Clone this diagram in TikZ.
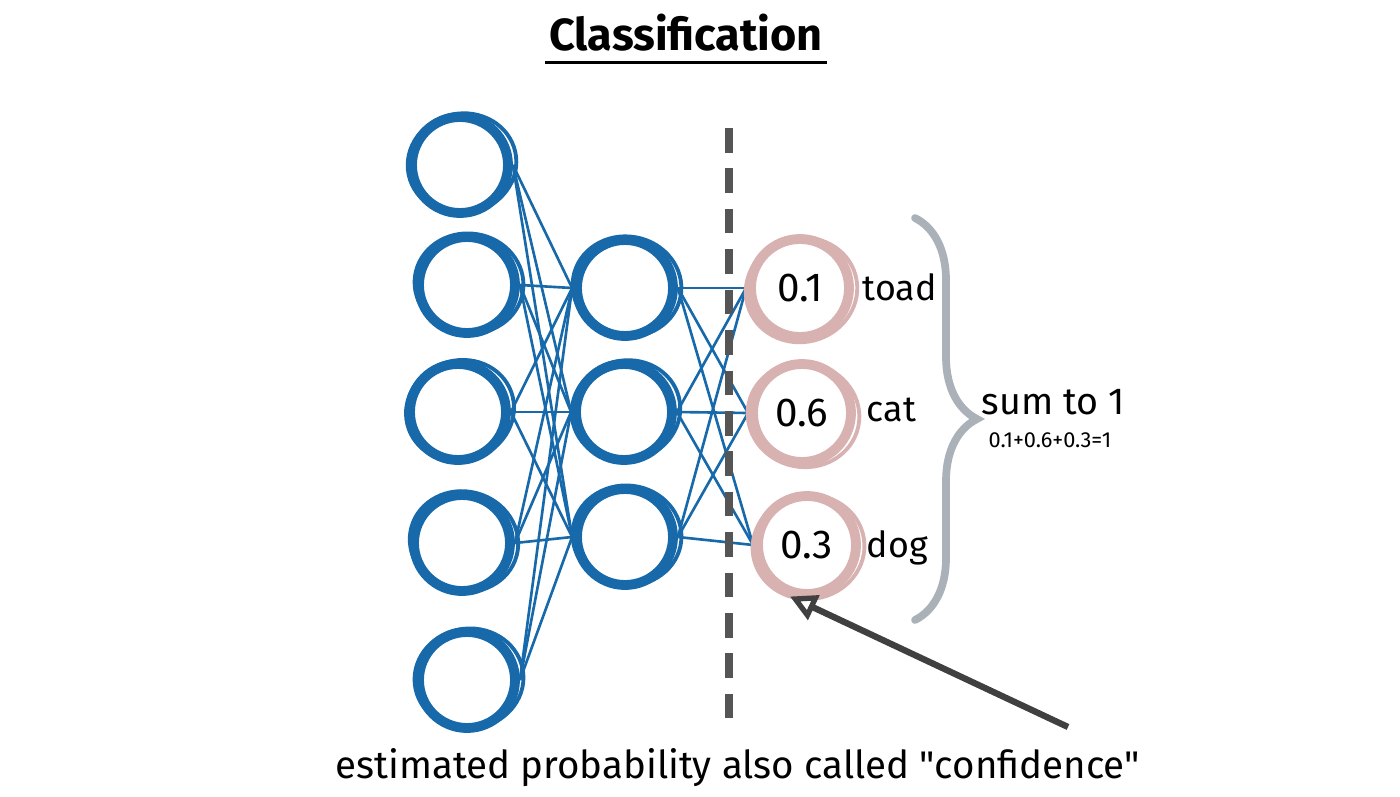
\documentclass[tikz,border=0pt]{standalone}
\usepackage{fontspec}
\setmainfont{Fira Sans}
\usetikzlibrary{arrows.meta,decorations.pathreplacing,backgrounds}
\definecolor{nnblue}{HTML}{1769AA}
\definecolor{outpink}{HTML}{D8B1B1}
\definecolor{bracegray}{HTML}{AAB1B8}
\definecolor{dashgray}{HTML}{555555}
\definecolor{arrowgray}{HTML}{404040}
\tikzset{
  incirc/.style={circle, draw=nnblue, line width=2.8pt, minimum size=0.96cm, inner sep=0pt},
  outcirc/.style={circle, draw=outpink, line width=2.8pt, minimum size=0.98cm, inner sep=0pt,
    font=\fontsize{11.5}{14}\selectfont},
  sketchblue/.style={draw=nnblue, line width=1.1pt},
  sketchpink/.style={draw=outpink, line width=1.1pt},
  wire/.style={draw=nnblue, line width=0.75pt},
  lbl/.style={font=\fontsize{10.2}{12}\selectfont, anchor=west, inner sep=0pt},
}
\begin{document}
\begin{tikzpicture}
\useasboundingbox (0,0) rectangle (14,-7.97);
% title
\node[font=\bfseries\fontsize{12.8}{15}\selectfont, inner sep=1pt] (title) at (6.86,-0.33) {Classification};
\draw[line width=0.9pt] ([yshift=-2pt]title.south west) -- ([yshift=-2pt]title.south east);
% input layer
\node[incirc] (i1) at (4.60,-1.65) {};
\node[incirc] (i2) at (4.67,-2.85) {};
\node[incirc] (i3) at (4.58,-4.12) {};
\node[incirc] (i4) at (4.62,-5.43) {};
\node[incirc] (i5) at (4.67,-6.80) {};
% hidden layer
\node[incirc] (h1) at (6.25,-2.88) {};
\node[incirc] (h2) at (6.24,-4.12) {};
\node[incirc] (h3) at (6.25,-5.37) {};
% output layer
\node[outcirc] (o1) at (8.00,-2.88) {0.1};
\node[outcirc] (o2) at (8.02,-4.13) {0.6};
\node[outcirc] (o3) at (8.07,-5.45) {0.3};
% sketch strokes
\foreach \n/\r in {i1/12,i2/-8,i3/20,i4/-15,i5/6,h1/-10,h2/14,h3/-6}{
  \draw[sketchblue] ([shift={(0.02,0.015)}]\n.center) ellipse [x radius=0.545cm, y radius=0.50cm, rotate=\r];
}
\foreach \n/\r in {o1/15,o2/-12,o3/8}{
  \draw[sketchpink] ([shift={(0.015,-0.02)}]\n.center) ellipse [x radius=0.56cm, y radius=0.52cm, rotate=\r];
}
% connections
\begin{scope}[on background layer]
\foreach \a in {i1,i2,i3,i4,i5}{
  \foreach \b in {h1,h2,h3}{
    \draw[wire] (\a.east) -- (\b.west);
  }
}
\foreach \a in {h1,h2,h3}{
  \foreach \b in {o1,o2,o3}{
    \draw[wire] (\a.east) -- (\b.west);
  }
}
\end{scope}
% dashed separator
\coordinate (d1) at (7.29,-1.28);
\coordinate (d2) at (7.29,-7.20);
\draw[dashgray, line width=2pt, dash pattern=on 7pt off 4.5pt] (d1) -- (d2);
% class labels
\node[lbl] (l1) at (8.62,-2.87) {toad};
\node[lbl] (l2) at (8.66,-4.10) {cat};
\node[lbl] (l3) at (8.66,-5.48) {dog};
% brace
\coordinate (bt) at (9.15,-2.18);
\coordinate (bb) at (9.15,-6.20);
\draw[bracegray, line width=2.2pt, line cap=round, decorate,
  decoration={brace, amplitude=0.62cm, aspect=0.5}] (bt) -- (bb);
\node[font=\fontsize{10.7}{13}\selectfont, inner sep=0pt] (sum) at (10.53,-4.02) {sum to 1};
\node[font=\fontsize{6.2}{8}\selectfont, inner sep=0pt] (eq) at (10.50,-4.40) {0.1+0.6+0.3=1};
% arrow
\coordinate (a1) at (10.68,-7.27);
\draw[arrowgray, line width=1.8pt, shorten >=1pt, -{Triangle[open, length=7.5pt, width=7.5pt, line width=1.5pt]}] (a1) -- (o3.-112);
% caption
\node[font=\fontsize{10.95}{13}\selectfont, inner sep=0pt] (cap) at (7.38,-7.68) {estimated probability also called \textquotedbl confidence\textquotedbl};
\end{tikzpicture}
\end{document}
